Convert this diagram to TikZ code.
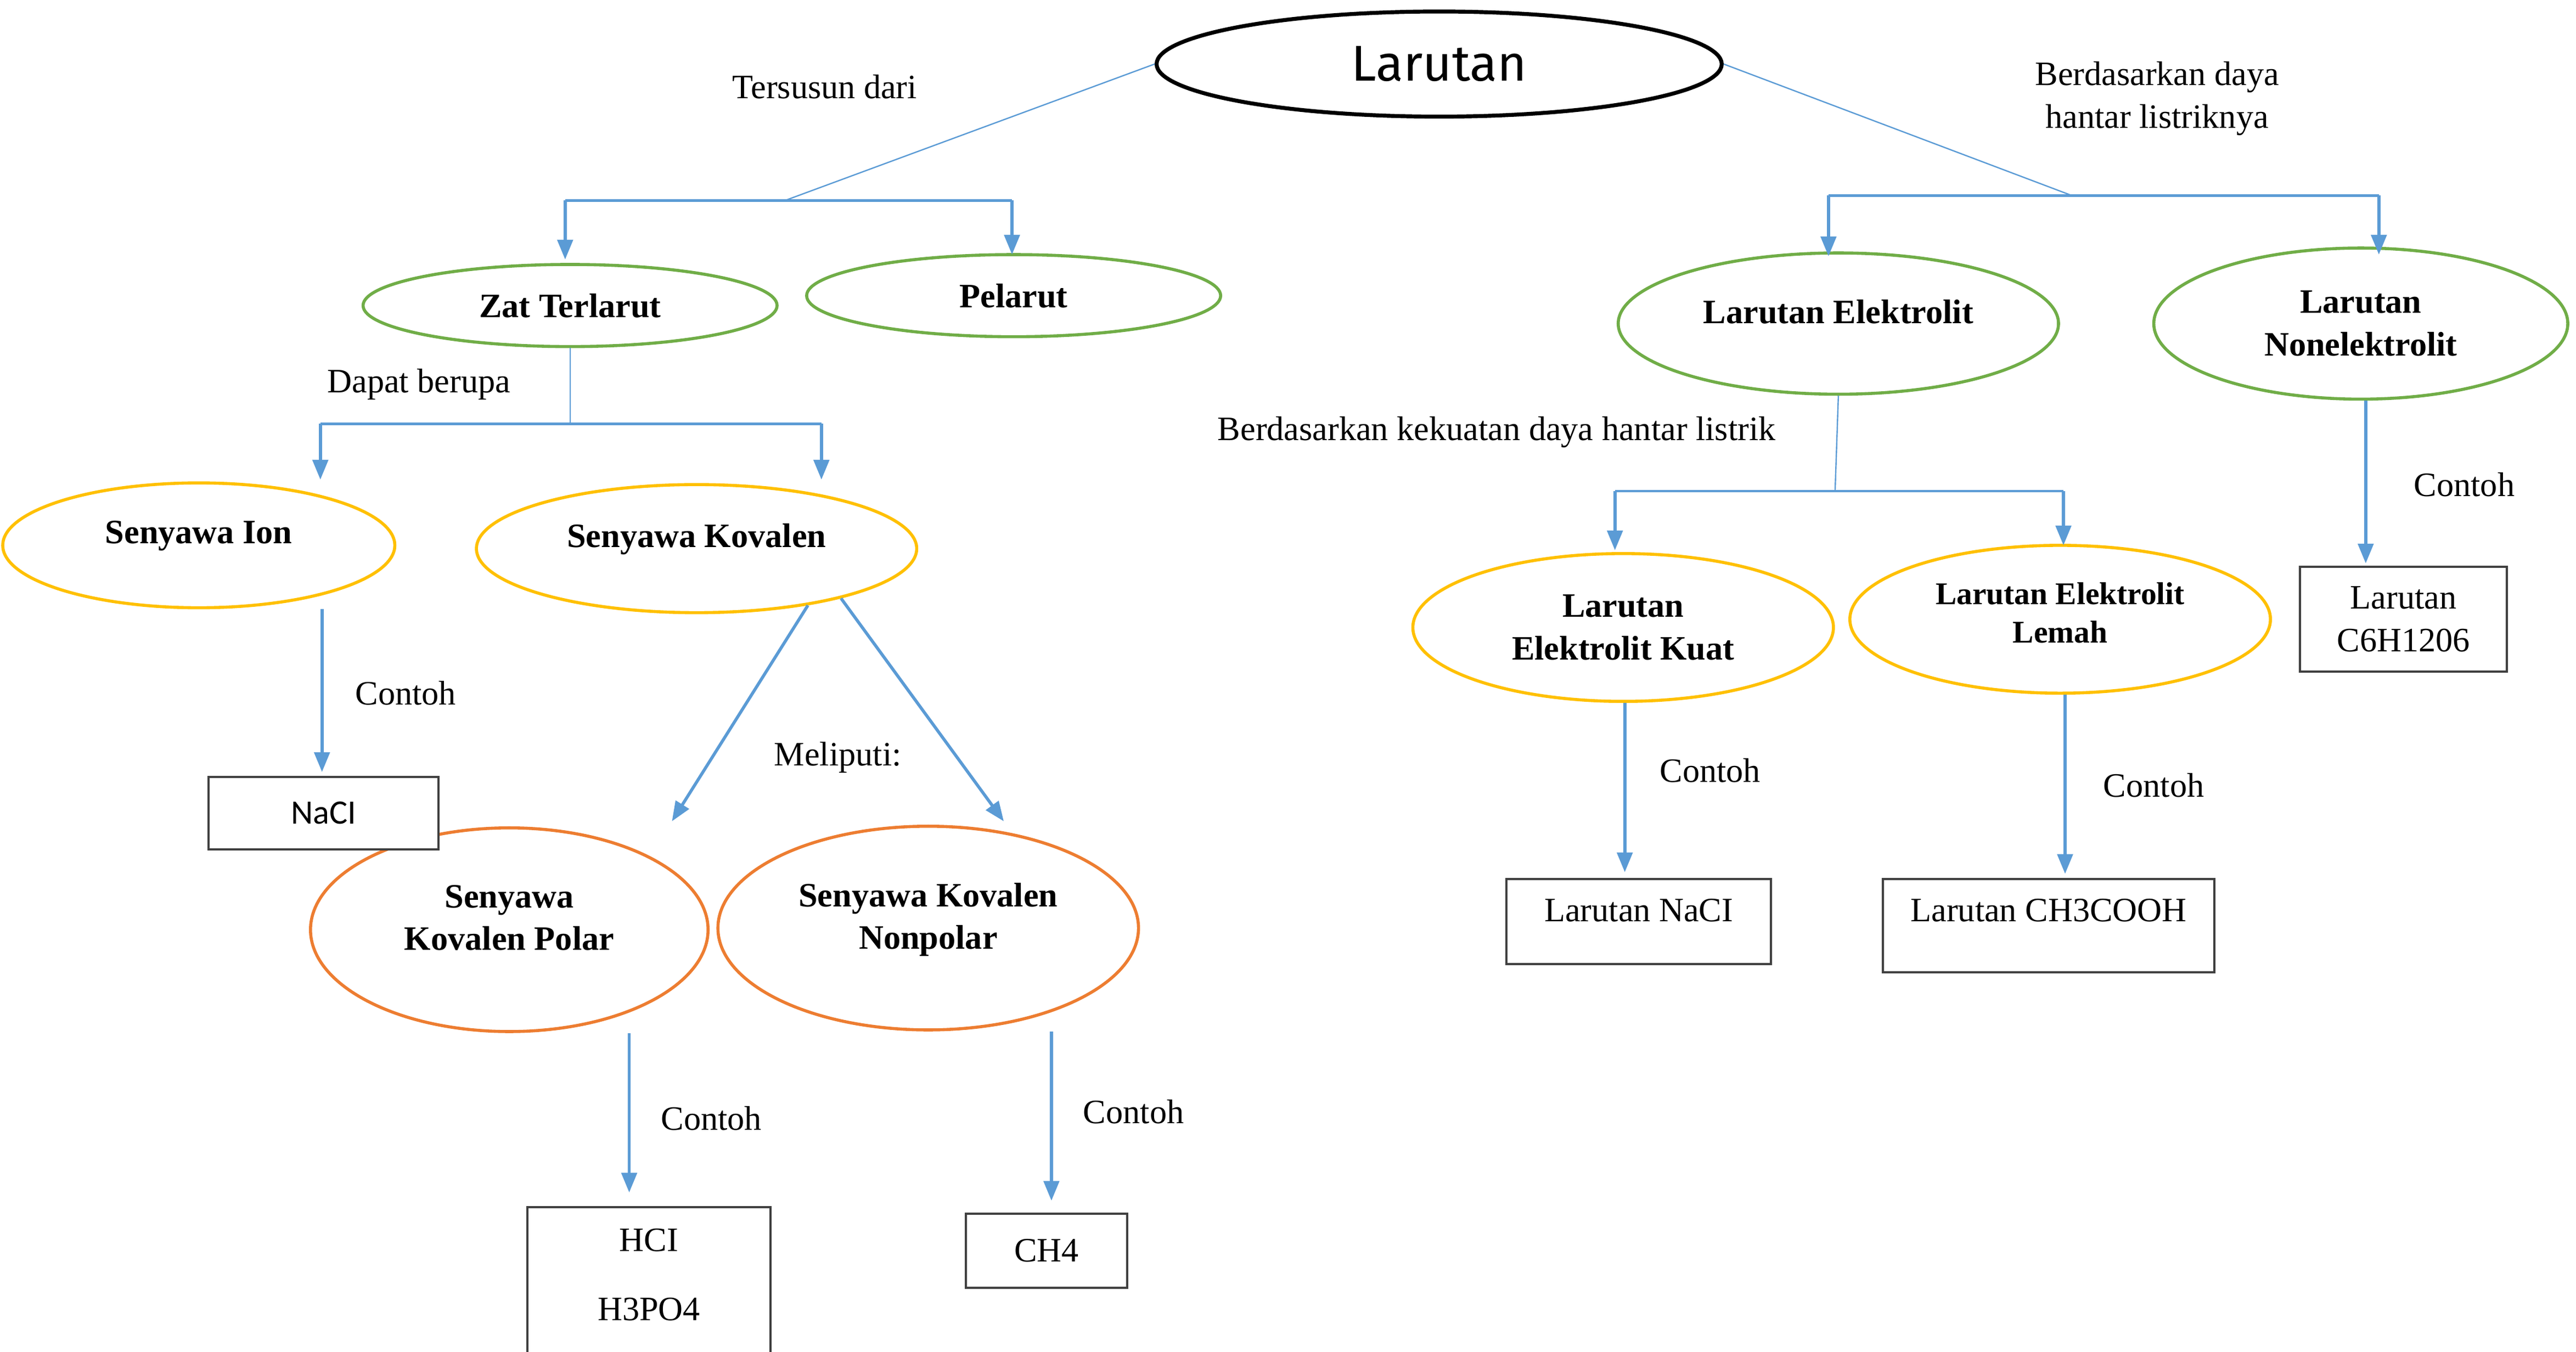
\documentclass[tikz,border=0pt]{standalone}
\usepackage{fontspec}
\setmainfont{Liberation Serif}
\newfontfamily\calfont{Carlito}
\newfontfamily\handfont{Fira Sans}
\usetikzlibrary{shapes.geometric,arrows.meta}

\definecolor{biru}{RGB}{91,155,213}
\definecolor{hijau}{RGB}{112,173,71}
\definecolor{kuning}{RGB}{255,192,0}
\definecolor{oranye}{RGB}{237,125,49}
\definecolor{abu}{RGB}{64,64,64}
\newcommand{\ukuran}{\fontsize{15.6}{19.5}\selectfont}

\tikzset{every picture/.style={line width=0.75pt}}
\tikzset{
	ovl/.style={ellipse, draw=#1, line width=1.4pt, inner sep=0pt, align=center, font=\ukuran\bfseries},
	naik/.style={text depth=#1},
	kotak/.style={rectangle, draw=abu, fill=white, line width=1pt, inner sep=0pt, align=center, font=\ukuran},
	ket/.style={align=center, font=\ukuran},
	panah/.style={draw=biru, line width=1.4pt, -{Triangle[length=9pt,width=7pt]}},
	garis/.style={draw=biru, line width=0.6pt},
	cabang/.style={draw=biru, line width=1.2pt}
}

\begin{document}
\begin{tikzpicture}[x=0.75pt,y=0.75pt,yscale=-1,xscale=1]
	\useasboundingbox (0,0) rectangle (1568,823);

	%Shape: Ellipse
	\node [ovl=black, line width=1.8pt, minimum width=258pt, minimum height=48pt, font=\handfont\fontsize{23}{28}\selectfont] (larutan) at (876,39) {Larutan};
	%Shape: Ellipse
	\node [ovl=hijau, minimum width=189pt, minimum height=37.5pt] (zat) at (347,186) {Zat Terlarut};
	%Shape: Ellipse
	\node [ovl=hijau, minimum width=189pt, minimum height=37.5pt] (pelarut) at (617,180) {Pelarut};
	%Shape: Ellipse
	\node [ovl=kuning, naik=12pt, minimum width=179pt, minimum height=57pt] (ion) at (121,332) {Senyawa Ion};
	%Shape: Ellipse
	\node [ovl=kuning, naik=12pt, minimum width=201pt, minimum height=58.5pt] (kovalen) at (424,334) {Senyawa Kovalen};
	%Shape: Ellipse
	\node [ovl=oranye, naik=11pt, minimum width=181.5pt, minimum height=93pt] (polar) at (310,566) {Senyawa\\Kovalen Polar};
	%Shape: Ellipse
	\node [ovl=oranye, naik=11pt, minimum width=192pt, minimum height=93pt] (nonpolar) at (565,565) {Senyawa Kovalen\\Nonpolar};
	%Shape: Ellipse
	\node [ovl=hijau, naik=11pt, minimum width=201pt, minimum height=64.5pt] (elektrolit) at (1119,197) {Larutan Elektrolit};
	%Shape: Ellipse
	\node [ovl=hijau, minimum width=189pt, minimum height=69pt] (nonelektrolit) at (1437,197) {Larutan\\Nonelektrolit};
	%Shape: Ellipse
	\node [ovl=kuning, minimum width=192pt, minimum height=67.5pt] (kuat) at (988,382) {Larutan\\Elektrolit Kuat};
	%Shape: Ellipse
	\node [ovl=kuning, naik=6pt, minimum width=192pt, minimum height=67.5pt, font=\fontsize{14.4}{17.5}\selectfont\bfseries] (lemah) at (1254,377) {Larutan Elektrolit\\Lemah};

	%Shape: Rectangle
	\node [kotak, minimum width=105pt, minimum height=33pt, font=\calfont\ukuran] (nacl) at (197,495) {NaCI};
	%Shape: Rectangle
	\node [kotak, naik=6pt, minimum width=111pt, minimum height=67.5pt] (hcl) at (395,780) {HCI\\[12pt]H3PO4};
	%Shape: Rectangle
	\node [kotak, minimum width=73.5pt, minimum height=33.75pt] (ch4) at (637,761.5) {CH4};
	%Shape: Rectangle
	\node [kotak, naik=10.5pt, minimum width=120.75pt, minimum height=39pt] (lnacl) at (997.5,561) {Larutan NaCI};
	%Shape: Rectangle
	\node [kotak, naik=14pt, minimum width=151.5pt, minimum height=42.75pt] (asetat) at (1247,563.5) {Larutan CH3COOH};
	%Shape: Rectangle
	\node [kotak, minimum width=94.5pt, minimum height=48pt] (glukosa) at (1463,377) {Larutan\\C6H1206};

	% junctions and arrow tips
	\coordinate (kiriJ) at (478,122);
	\coordinate (kananJ) at (1261,119);
	\coordinate (zatJ) at (347,258);
	\coordinate (elekJ) at (1117,299);
	\coordinate (tipZat) at (344,158);
	\coordinate (tipPelarut) at (616,155);
	\coordinate (tipIon) at (195,292);
	\coordinate (tipKovalen) at (500,292);
	\coordinate (tipElek) at (1113,156);
	\coordinate (tipNon) at (1448,155);
	\coordinate (tipKuat) at (983,335);
	\coordinate (tipLemah) at (1256,332);
	\coordinate (tipPolar) at (409,500);
	\coordinate (tipNonpolar) at (611,500);
	\coordinate (tipNaCl) at (196,470);
	\coordinate (tipHCl) at (383,726);
	\coordinate (tipCH4) at (640,731);
	\coordinate (tipLNaCl) at (989,531);
	\coordinate (tipAsetat) at (1257,532);
	\coordinate (tipGlukosa) at (1440,343);

	%Straight Lines
	\draw [garis] (larutan.west) -- (kiriJ);
	\draw [cabang] (tipZat |- kiriJ) -- (tipPelarut |- kiriJ);
	\draw [panah] (tipZat |- kiriJ) -- (tipZat);
	\draw [panah] (tipPelarut |- kiriJ) -- (tipPelarut);
	%Straight Lines
	\draw [garis] (larutan.east) -- (kananJ);
	\draw [cabang] (tipElek |- kananJ) -- (tipNon |- kananJ);
	\draw [panah] (tipElek |- kananJ) -- (tipElek);
	\draw [panah] (tipNon |- kananJ) -- (tipNon);
	%Straight Lines
	\draw [garis] (zat.south) -- (zatJ);
	\draw [cabang] (tipIon |- zatJ) -- (tipKovalen |- zatJ);
	\draw [panah] (tipIon |- zatJ) -- (tipIon);
	\draw [panah] (tipKovalen |- zatJ) -- (tipKovalen);
	%Straight Lines
	\draw [garis] (elektrolit.south) -- (elekJ);
	\draw [cabang] (tipKuat |- elekJ) -- (tipLemah |- elekJ);
	\draw [panah] (tipKuat |- elekJ) -- (tipKuat);
	\draw [panah] (tipLemah |- elekJ) -- (tipLemah);
	%Straight Lines
	\draw [panah] (kovalen.-27) -- (tipPolar);
	\draw [panah] (kovalen.-19) -- (tipNonpolar);
	\draw [panah] (ion.south -| tipNaCl) -- (tipNaCl);
	\draw [panah] (polar.south -| tipHCl) -- (tipHCl);
	\draw [panah] (nonpolar.south -| tipCH4) -- (tipCH4);
	\draw [panah] (kuat.south -| tipLNaCl) -- (tipLNaCl);
	\draw [panah] (lemah.south -| tipAsetat) -- (tipAsetat);
	\draw [panah] (nonelektrolit.south -| tipGlukosa) -- (tipGlukosa);

	% Text Node
	\node [ket] (tersusun) at (502,53) {Tersusun dari};
	% Text Node
	\node [ket] (berdasar) at (1313,60) {Berdasarkan daya\\hantar listriknya};
	% Text Node
	\node [ket] (dapat) at (255,234) {Dapat berupa};
	% Text Node
	\node [ket] (kekuatan) at (911,263) {Berdasarkan kekuatan daya hantar listrik};
	% Text Node
	\node [ket] (meliputi) at (510,461) {Meliputi:};
	% Text Node
	\node [ket] (contohIon) at (247,422) {Contoh};
	% Text Node
	\node [ket] (contohPolar) at (433,681) {Contoh};
	% Text Node
	\node [ket] (contohNonpolar) at (690,677) {Contoh};
	% Text Node
	\node [ket] (contohKuat) at (1041,469) {Contoh};
	% Text Node
	\node [ket] (contohLemah) at (1311,478) {Contoh};
	% Text Node
	\node [ket] (contohNon) at (1500,295) {Contoh};

\end{tikzpicture}
\end{document}
